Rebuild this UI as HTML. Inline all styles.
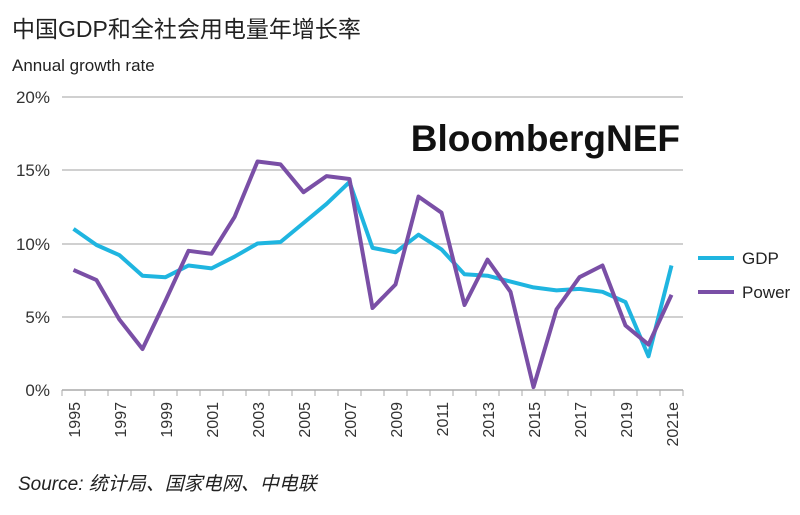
<!DOCTYPE html>
<html><head><meta charset="utf-8"><style>
body{margin:0;background:#fff;width:800px;height:510px;overflow:hidden;font-family:"Liberation Sans","Noto Sans CJK SC",sans-serif}
</style></head><body>
<svg width="800" height="510" xmlns="http://www.w3.org/2000/svg" font-family="Liberation Sans, Noto Sans CJK SC, sans-serif">
<text x="12" y="37" font-size="23" fill="#222">中国GDP和全社会用电量年增长率</text>
<text x="12" y="71" font-size="17" fill="#222">Annual growth rate</text>
<g stroke="#d0d0d0" stroke-width="2">
<line x1="62" x2="683" y1="97" y2="97"/><line x1="62" x2="683" y1="170" y2="170"/>
<line x1="62" x2="683" y1="244" y2="244"/><line x1="62" x2="683" y1="317" y2="317"/>
</g>
<line x1="62" x2="683" y1="390" y2="390" stroke="#aaa" stroke-width="1.5"/>
<g stroke="#aaa" stroke-width="1">
<line x1="62" x2="62" y1="390" y2="396"/><line x1="85" x2="85" y1="390" y2="396"/><line x1="108" x2="108" y1="390" y2="396"/><line x1="131" x2="131" y1="390" y2="396"/><line x1="154" x2="154" y1="390" y2="396"/><line x1="177" x2="177" y1="390" y2="396"/><line x1="200" x2="200" y1="390" y2="396"/><line x1="223" x2="223" y1="390" y2="396"/><line x1="246" x2="246" y1="390" y2="396"/><line x1="269" x2="269" y1="390" y2="396"/><line x1="292" x2="292" y1="390" y2="396"/><line x1="315" x2="315" y1="390" y2="396"/><line x1="338" x2="338" y1="390" y2="396"/><line x1="361" x2="361" y1="390" y2="396"/><line x1="384" x2="384" y1="390" y2="396"/><line x1="407" x2="407" y1="390" y2="396"/><line x1="430" x2="430" y1="390" y2="396"/><line x1="453" x2="453" y1="390" y2="396"/><line x1="476" x2="476" y1="390" y2="396"/><line x1="499" x2="499" y1="390" y2="396"/><line x1="522" x2="522" y1="390" y2="396"/><line x1="545" x2="545" y1="390" y2="396"/><line x1="568" x2="568" y1="390" y2="396"/><line x1="591" x2="591" y1="390" y2="396"/><line x1="614" x2="614" y1="390" y2="396"/><line x1="637" x2="637" y1="390" y2="396"/><line x1="660" x2="660" y1="390" y2="396"/><line x1="683" x2="683" y1="390" y2="396"/>
</g>
<g font-size="17" fill="#333" text-anchor="end">
<text x="50" y="103">20%</text><text x="50" y="176">15%</text><text x="50" y="250">10%</text><text x="50" y="323">5%</text><text x="50" y="396">0%</text>
</g>
<g font-size="16" fill="#333" text-anchor="end">
<text transform="translate(80,402) rotate(-90)">1995</text>
<text transform="translate(126,402) rotate(-90)">1997</text>
<text transform="translate(172,402) rotate(-90)">1999</text>
<text transform="translate(218,402) rotate(-90)">2001</text>
<text transform="translate(264,402) rotate(-90)">2003</text>
<text transform="translate(310,402) rotate(-90)">2005</text>
<text transform="translate(356,402) rotate(-90)">2007</text>
<text transform="translate(402,402) rotate(-90)">2009</text>
<text transform="translate(448,402) rotate(-90)">2011</text>
<text transform="translate(494,402) rotate(-90)">2013</text>
<text transform="translate(540,402) rotate(-90)">2015</text>
<text transform="translate(586,402) rotate(-90)">2017</text>
<text transform="translate(632,402) rotate(-90)">2019</text>
<text transform="translate(678,402) rotate(-90)">2021e</text>
</g>
<text x="680" y="151" font-size="37" font-weight="bold" fill="#111" text-anchor="end">BloombergNEF</text>
<polyline fill="none" stroke="#1fb5e0" stroke-width="4" stroke-linejoin="round" points="73.5,228.9 96.5,245 119.5,255.2 142.5,275.7 165.5,277.2 188.5,265.5 211.5,268.4 234.5,256.7 257.5,243.5 280.5,242 303.5,223 326.5,203.9 349.5,182 372.5,247.9 395.5,252.3 418.5,234.7 441.5,249.4 464.5,274.3 487.5,275.7 510.5,281.6 533.5,287.4 556.5,290.4 579.5,288.9 602.5,291.8 625.5,302.1 648.5,356.3 671.5,265.5"/>
<polyline fill="none" stroke="#7a4fa6" stroke-width="4" stroke-linejoin="round" points="73.5,269.9 96.5,280.1 119.5,319.7 142.5,349 165.5,300.6 188.5,250.8 211.5,253.8 234.5,217.1 257.5,161.5 280.5,164.4 303.5,192.2 326.5,176.1 349.5,179 372.5,308 395.5,284.5 418.5,196.6 441.5,212.7 464.5,305 487.5,259.6 510.5,291.8 533.5,387.1 556.5,309.4 579.5,277.2 602.5,265.5 625.5,325.5 648.5,344.6 671.5,294.8"/>
<line x1="698" x2="734" y1="258" y2="258" stroke="#1fb5e0" stroke-width="4"/>
<text x="742" y="264" font-size="17" fill="#222">GDP</text>
<line x1="698" x2="734" y1="292" y2="292" stroke="#7a4fa6" stroke-width="4"/>
<text x="742" y="298" font-size="17" fill="#222">Power</text>
<text x="18" y="490" font-size="19" fill="#222" font-style="italic">Source: 统计局、国家电网、中电联</text>
</svg>
</body></html>
